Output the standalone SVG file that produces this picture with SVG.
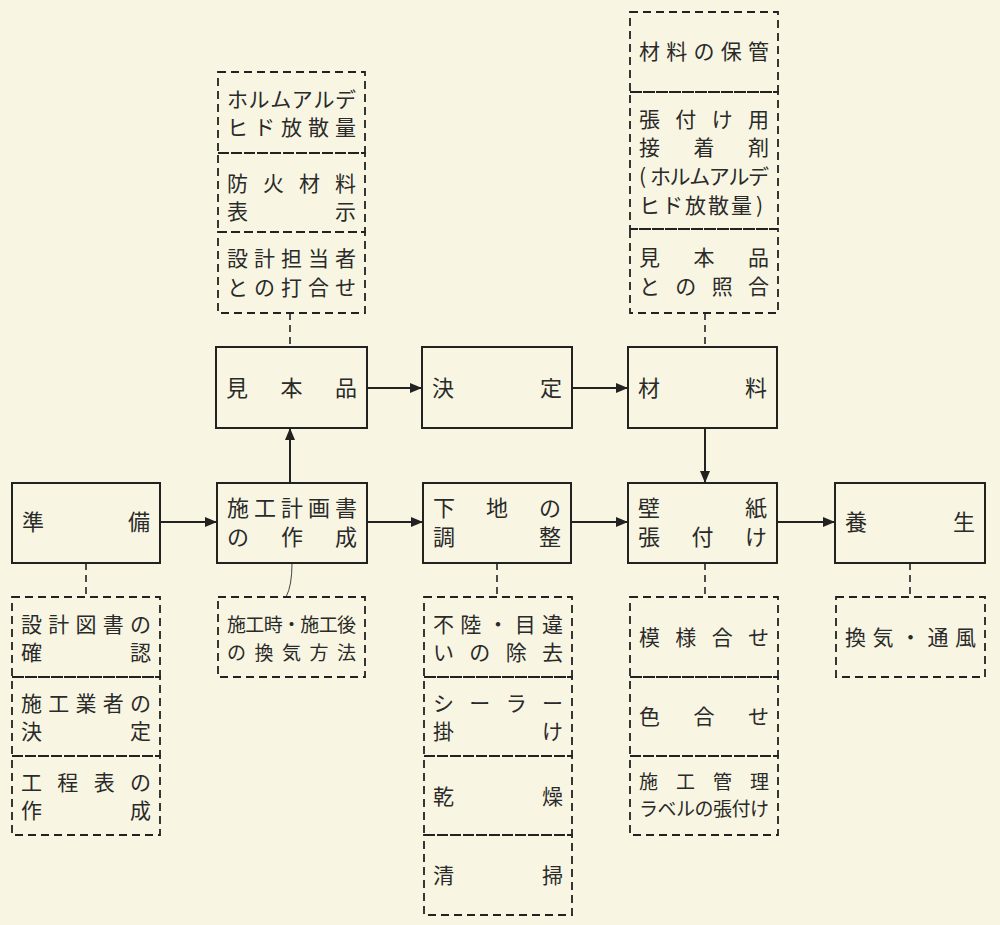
<svg xmlns="http://www.w3.org/2000/svg" width="1000" height="925" viewBox="0 0 1000 925">
<defs>
<style>
.bg{fill:#f8f6e2}
.box{fill:none;stroke:#222;stroke-width:2}
.dbox{fill:none;stroke:#222;stroke-width:1.8;stroke-dasharray:8 5}
.dl{stroke:#222;stroke-width:1.6;stroke-dasharray:7 5;fill:none}
.al{stroke:#222;stroke-width:2;fill:none;marker-end:url(#ah)}
.t{font-family:"Noto Sans CJK JP","Noto Sans CJK SC",sans-serif;font-size:22px;fill:#2a2a2a}
.s{font-family:"Noto Sans CJK JP","Noto Sans CJK SC",sans-serif;font-size:21px;fill:#2a2a2a}
.m{font-family:"Noto Sans CJK JP","Noto Sans CJK SC",sans-serif;font-size:19px;fill:#2a2a2a}
</style>
<marker id="ah" viewBox="0 0 12 10" refX="12" refY="5" markerWidth="12" markerHeight="10" markerUnits="userSpaceOnUse" orient="auto">
<path d="M0,0 L12,5 L0,10 Z" fill="#222"/>
</marker>
</defs>
<rect class="bg" x="0" y="0" width="1000" height="925"/>

<g id="connectors">
<line class="al" x1="160" y1="522" x2="217" y2="522"/>
<line class="al" x1="367" y1="522" x2="423" y2="522"/>
<line class="al" x1="571" y1="522" x2="628" y2="522"/>
<line class="al" x1="777" y1="522" x2="835" y2="522"/>
<line class="al" x1="367" y1="388" x2="422" y2="388"/>
<line class="al" x1="572" y1="388" x2="628" y2="388"/>
<line class="al" x1="290" y1="483" x2="290" y2="428"/>
<line class="al" x1="705" y1="428" x2="705" y2="483"/>
<line class="dl" x1="290" y1="313" x2="290" y2="347"/>
<line class="dl" x1="705" y1="313" x2="705" y2="347"/>
<line class="dl" x1="86" y1="563" x2="86" y2="597"/>
<line class="dl" x1="497" y1="563" x2="497" y2="597"/>
<line class="dl" x1="705" y1="563" x2="705" y2="597"/>
<line class="dl" x1="910" y1="563" x2="910" y2="597"/>
<path d="M292,563 Q292,586 286,597" fill="none" stroke="#444" stroke-width="1"/>
</g>

<g id="n-junbi">
<rect class="box" x="12" y="483" width="148" height="80"/>
<text class="t" x="22 128" y="530">準備</text>
</g>
<g id="n-sekou">
<rect class="box" x="217" y="483" width="150" height="80"/>
<text class="t" x="227 254 281 308 335" y="516">施工計画書</text>
<text class="t" x="227 281 335" y="545">の作成</text>
</g>
<g id="n-shitaji">
<rect class="box" x="423" y="483" width="148" height="80"/>
<text class="t" x="433 486 539" y="516">下地の</text>
<text class="t" x="433 539" y="545">調整</text>
</g>
<g id="n-kabegami">
<rect class="box" x="628" y="483" width="149" height="80"/>
<text class="t" x="638 745" y="516">壁紙</text>
<text class="t" x="638 691.5 745" y="545">張付け</text>
</g>
<g id="n-yojo">
<rect class="box" x="835" y="483" width="150" height="80"/>
<text class="t" x="845 953" y="530">養生</text>
</g>
<g id="n-mihon">
<rect class="box" x="216" y="347" width="151" height="81"/>
<text class="t" x="226 280.5 335" y="396">見本品</text>
</g>
<g id="n-kettei">
<rect class="box" x="422" y="347" width="150" height="81"/>
<text class="t" x="432 540" y="396">決定</text>
</g>
<g id="n-zairyo">
<rect class="box" x="628" y="347" width="149" height="81"/>
<text class="t" x="638 745" y="396">材料</text>
</g>

<g id="n-top-left-notes">
<rect class="dbox" x="218" y="72" width="147" height="81"/>
<rect class="dbox" x="218" y="153" width="147" height="79"/>
<rect class="dbox" x="218" y="232" width="147" height="81"/>
<text class="s" x="227 248.6 270.2 291.8 313.4 335" y="107">ホルムアルデ</text>
<text class="s" x="227 254 281 308 335" y="135">ヒド放散量</text>
<text class="s" x="227 263 299 335" y="191">防火材料</text>
<text class="s" x="227 335" y="219">表示</text>
<text class="s" x="227 254 281 308 335" y="266">設計担当者</text>
<text class="s" x="227 254 281 308 335" y="295">との打合せ</text>
</g>

<g id="n-top-right-notes">
<rect class="dbox" x="630" y="12" width="148" height="80"/>
<rect class="dbox" x="630" y="92" width="148" height="137"/>
<rect class="dbox" x="630" y="229" width="148" height="84"/>
<text class="s" x="639 666.25 693.5 720.75 748" y="59">材料の保管</text>
<text class="s" x="639 675.3 711.7 748" y="127">張付け用</text>
<text class="s" x="639 693.5 748" y="155">接着剤</text>
<text class="s" x="639 650 669.6 689.2 708.8 728.4 748" y="184">(ホルムアルデ</text>
<text class="s" x="639 662 685 708 731 756" y="213">ヒド放散量)</text>
<text class="s" x="639 693.5 748" y="265">見本品</text>
<text class="s" x="639 675.3 711.7 748" y="294">との照合</text>
</g>

<g id="n-bottom-left-notes">
<rect class="dbox" x="12" y="597" width="148" height="80"/>
<rect class="dbox" x="12" y="677" width="148" height="79"/>
<rect class="dbox" x="12" y="756" width="148" height="79"/>
<text class="s" x="21 48.25 75.5 102.75 130" y="632">設計図書の</text>
<text class="s" x="21 130" y="660">確認</text>
<text class="s" x="21 48.25 75.5 102.75 130" y="711">施工業者の</text>
<text class="s" x="21 130" y="739">決定</text>
<text class="s" x="21 57.3 93.7 130" y="790">工程表の</text>
<text class="s" x="21 130" y="818">作成</text>
</g>

<g id="n-kanki-houhou">
<rect class="dbox" x="218" y="597" width="147" height="80"/>
<text class="m" x="227 245.3 263.7 282 300.3 318.7 337" y="632">施工時・施工後</text>
<text class="m" x="227 254.5 282 309.5 337" y="660">の換気方法</text>
</g>

<g id="n-shitaji-notes">
<rect class="dbox" x="424" y="597" width="148" height="80"/>
<rect class="dbox" x="424" y="677" width="148" height="79"/>
<rect class="dbox" x="424" y="756" width="148" height="79"/>
<rect class="dbox" x="424" y="835" width="148" height="80"/>
<text class="s" x="433 460.25 487.5 514.75 542" y="632">不陸・目違</text>
<text class="s" x="433 469.3 505.7 542" y="660">いの除去</text>
<text class="s" x="433 469.3 505.7 542" y="711">シーラー</text>
<text class="s" x="433 542" y="739">掛け</text>
<text class="s" x="433 542" y="804">乾燥</text>
<text class="s" x="433 542" y="883">清掃</text>
</g>

<g id="n-kabegami-notes">
<rect class="dbox" x="630" y="597" width="148" height="80"/>
<rect class="dbox" x="630" y="677" width="148" height="79"/>
<rect class="dbox" x="630" y="756" width="148" height="79"/>
<text class="s" x="639 675.3 711.7 748" y="645">模様合せ</text>
<text class="s" x="639 693.5 748" y="724">色合せ</text>
<text class="m" x="639 676 713 750" y="789">施工管理</text>
<text class="m" x="639 657.5 676 694.5 713 731.5 750" y="816">ラベルの張付け</text>
</g>

<g id="n-yojo-notes">
<rect class="dbox" x="836" y="597" width="149" height="80"/>
<text class="s" x="845 872.5 900 927.5 955" y="645">換気・通風</text>
</g>
</svg>
